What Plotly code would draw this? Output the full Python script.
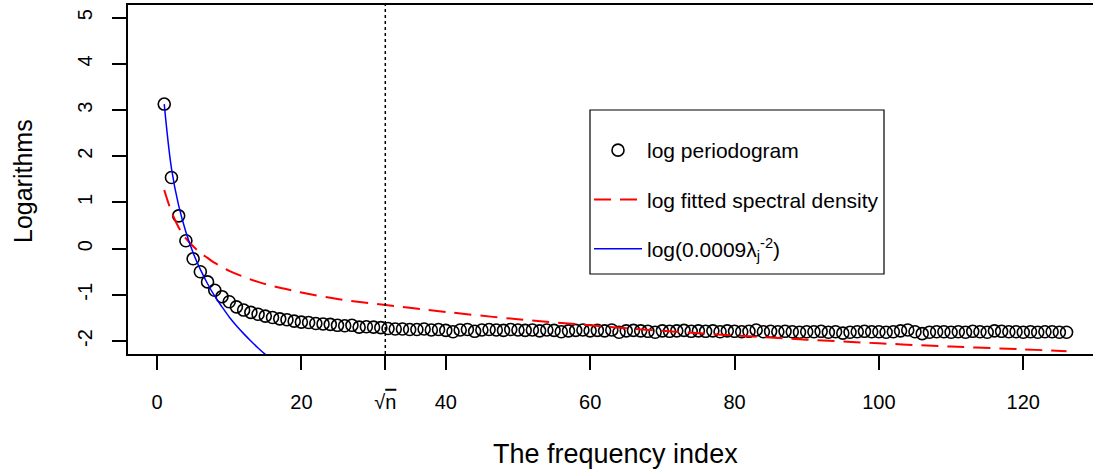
import numpy as np
import plotly.graph_objects as go

# ---------------- data ----------------
n_obs = 1000  # sample size; sqrt(n) marks the dotted vertical line

freq_index = list(range(1, 127))
log_periodogram = [
    3.13, 1.54, 0.71, 0.17, -0.22, -0.50, -0.72, -0.90, -1.04, -1.15,
    -1.26, -1.33, -1.38, -1.42, -1.46, -1.49, -1.52, -1.54, -1.57, -1.59,
    -1.60, -1.62, -1.63, -1.64, -1.66, -1.67, -1.66, -1.70, -1.69, -1.70,
    -1.71, -1.73, -1.74, -1.74, -1.75, -1.75, -1.74, -1.76, -1.75, -1.77,
    -1.80, -1.76, -1.75, -1.79, -1.76, -1.75, -1.76, -1.77, -1.75, -1.76,
    -1.77, -1.76, -1.78, -1.76, -1.77, -1.80, -1.78, -1.77, -1.76, -1.78,
    -1.77, -1.78, -1.76, -1.81, -1.78, -1.77, -1.78, -1.79, -1.81, -1.78,
    -1.79, -1.78, -1.77, -1.79, -1.78, -1.79, -1.78, -1.80, -1.78, -1.79,
    -1.80, -1.79, -1.76, -1.80, -1.79, -1.80, -1.79, -1.80, -1.81, -1.80,
    -1.80, -1.79, -1.81, -1.80, -1.83, -1.81, -1.80, -1.79, -1.80, -1.80,
    -1.81, -1.80, -1.78, -1.76, -1.80, -1.84, -1.81, -1.80, -1.80, -1.81,
    -1.80, -1.81, -1.79, -1.80, -1.81, -1.78, -1.79, -1.80, -1.80, -1.81,
    -1.80, -1.81, -1.80, -1.80, -1.81, -1.81,
]

fitted_j = [1, 2, 3, 4, 5, 6, 7, 8, 10, 12, 14, 16, 18, 20, 25, 30, 35, 40,
            50, 60, 70, 80, 90, 100, 110, 120, 126]
fitted_log_sd = [1.27, 0.80, 0.46, 0.22, 0.05, -0.09, -0.20, -0.31, -0.48,
                 -0.61, -0.72, -0.81, -0.88, -0.95, -1.09, -1.19, -1.28,
                 -1.37, -1.53, -1.66, -1.78, -1.88, -1.97, -2.05, -2.12,
                 -2.18, -2.22]

power_j = list(range(1, 17))
power_log = [3.13, 1.74, 0.93, 0.36, -0.09, -0.45, -0.76, -1.03, -1.26,
             -1.48, -1.67, -1.84, -2.00, -2.15, -2.29, -2.42]

x_tick_vals = [0, 20, 40, 60, 80, 100, 120]
y_tick_vals = [-2, -1, 0, 1, 2, 3, 4, 5]

# ---------------- figure ----------------
W, H = 1093, 472
ML, MR, MT, MB = 128, 0, 5, 118
FONT = "Liberation Sans, Arial, Helvetica, sans-serif"

sqrt_n = float(np.sqrt(n_obs))
x_range = [-4.02, 129.66]
y_range = [-2.281, 5.275]

fig = go.Figure()
fig.add_trace(go.Scatter(
    x=freq_index, y=log_periodogram, mode="markers",
    name="log periodogram", legendgroup="a",
    marker=dict(symbol="circle-open", size=12, color="black",
                line=dict(width=1.6, color="black")),
))
fig.add_trace(go.Scatter(
    x=fitted_j, y=fitted_log_sd, mode="lines", line_shape="spline",
    name="log fitted spectral density", legendgroup="b",
    line=dict(color="#FF0000", width=2, dash="17px,9px"),
))
fig.add_trace(go.Scatter(
    x=power_j, y=power_log, mode="lines", line_shape="spline",
    name="log(0.0009λ<sub>j</sub><sup>-2</sup>)", legendgroup="c",
    line=dict(color="#0000FF", width=1.5),
))

fig.add_shape(type="line", xref="x", yref="paper", x0=sqrt_n, x1=sqrt_n,
              y0=0, y1=1, line=dict(color="black", width=1.5, dash="dot"))

# legend frame
def px_x(p):
    return (p - ML) / (W - ML - MR)

def px_y(p):
    return (H - MB - p) / (H - MT - MB)

fig.add_shape(type="rect", xref="paper", yref="paper",
              x0=px_x(590), x1=px_x(884), y0=px_y(274), y1=px_y(110),
              line=dict(color="black", width=1.2), fillcolor="white",
              layer="above")

tickfont = dict(family=FONT, size=20, color="black")
fig.update_layout(
    width=W, height=H,
    margin=dict(l=ML, r=MR, t=MT, b=MB),
    paper_bgcolor="white", plot_bgcolor="white",
    font=dict(family=FONT, color="black"),
    showlegend=True,
    legend=dict(
        x=px_x(589), y=px_y(130), xanchor="left", yanchor="top",
        bgcolor="rgba(0,0,0,0)", borderwidth=0,
        font=dict(family=FONT, size=21, color="black"),
        tracegroupgap=19, itemwidth=48,
    ),
    xaxis=dict(
        range=x_range, showgrid=False, zeroline=False,
        showline=True, mirror=True, linecolor="black", linewidth=1.5,
        ticks="outside", ticklen=14, tickwidth=1.5, tickcolor="black",
        tickvals=x_tick_vals + [sqrt_n],
        ticktext=[str(v) for v in x_tick_vals]
        + ["√<span style='text-decoration:overline'>n</span>"],
        tickfont=tickfont, ticklabelstandoff=15,
    ),
    yaxis=dict(
        range=y_range, showgrid=False, zeroline=False,
        showline=True, mirror=False, linecolor="black", linewidth=1.5,
        ticks="outside", ticklen=14, tickwidth=1.5, tickcolor="black",
        tickvals=y_tick_vals, ticktext=[str(v) for v in y_tick_vals],
        tickangle=-90, tickfont=tickfont, ticklabelstandoff=12,
    ),
)

fig.add_annotation(text="The frequency index", xref="paper", yref="paper",
                   x=px_x(615.5), y=px_y(454), showarrow=False,
                   xanchor="center", yanchor="middle",
                   font=dict(family=FONT, size=27, color="black"))
fig.add_annotation(text="Logarithms", xref="paper", yref="paper",
                   x=px_x(23), y=px_y(181), showarrow=False, textangle=-90,
                   xanchor="center", yanchor="middle",
                   font=dict(family=FONT, size=25, color="black"))

fig.write_html("out.html")
